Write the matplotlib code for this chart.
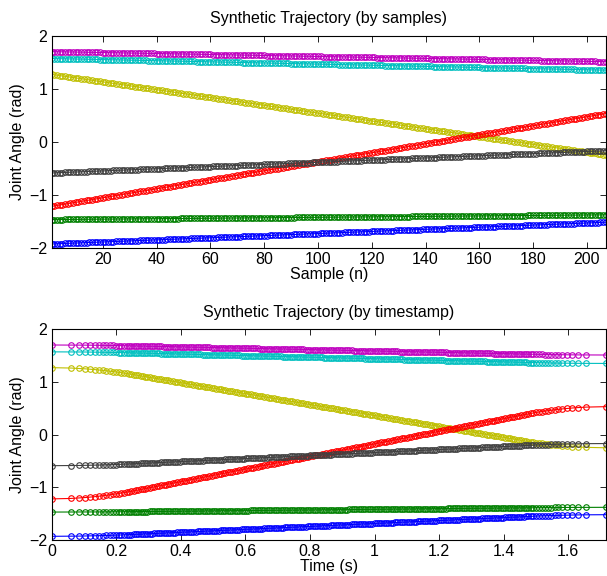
import numpy as np
import matplotlib
matplotlib.use("Agg")
import matplotlib.pyplot as plt
from matplotlib.ticker import FormatStrFormatter

# start / goal pose of the 7 joints (rad)
q_start = [-1.93, -1.47, 1.27, 1.57, 1.70, -1.22, -0.59]
q_goal = [-1.52, -1.38, -0.25, 1.35, 1.51, 0.53, -0.17]
colors = [(0, 0, 1), (0, 0.5, 0), (0.75, 0.75, 0), (0, 0.75, 0.75),
          (0.75, 0, 0.75), (1, 0, 0), (0.25, 0.25, 0.25)]

n_samples = 207
duration = 1.716     # s
t_accel = 0.253      # s, trapezoidal velocity profile

# straight line in joint space, equally spaced in path parameter
s = np.linspace(0, 1, n_samples)
Q = np.outer(1 - s, q_start) + np.outer(s, q_goal)

# timestamps for each sample along the trapezoidal profile
v = 1.0 / (duration - t_accel)
a = v / t_accel
s_a = 0.5 * v * t_accel
t = np.where(s < s_a, np.sqrt(2 * s / a),
             np.where(s > 1 - s_a, duration - np.sqrt(np.clip(2 * (1 - s) / a, 0, None)),
                      t_accel + (s - s_a) / v))

plt.rcParams['font.family'] = ['Liberation Sans', 'DejaVu Sans']
plt.rcParams['font.size'] = 11.5

fig = plt.figure(figsize=(6.07, 5.76), dpi=100)
ax1 = fig.add_axes([0.085, 0.570, 0.913, 0.368])
ax2 = fig.add_axes([0.085, 0.0625, 0.913, 0.366])

n = np.arange(1, n_samples + 1)
for j in range(len(q_start)):
    kw = dict(color=colors[j], marker='o', markersize=4.0, markerfacecolor='none',
              markeredgewidth=0.8, linewidth=0.8)
    ax1.plot(n, Q[:, j], **kw)
    ax2.plot(t, Q[:, j], **kw)

ax1.set_xlim(1, n_samples)
ax1.set_xticks(np.arange(20, 201, 20))
ax1.set_title('Synthetic Trajectory (by samples)', pad=9, fontsize=11.5)
ax1.set_xlabel('Sample (n)', labelpad=0)

ax2.set_xlim(0, duration)
ax2.set_xticks(np.arange(0, 1.61, 0.2))
ax2.xaxis.set_major_formatter(FormatStrFormatter('%g'))
ax2.set_title('Synthetic Trajectory (by timestamp)', pad=9, fontsize=11.5)
ax2.set_xlabel('Time (s)', labelpad=0)

for ax in (ax1, ax2):
    ax.set_ylim(-2, 2)
    ax.set_yticks([-2, -1, 0, 1, 2])
    ax.set_ylabel('Joint Angle (rad)', labelpad=3)
    ax.tick_params(direction='in', top=True, right=True, length=4, width=0.6,
                   labelsize=11.5, pad=3)
    for sp in ax.spines.values():
        sp.set_linewidth(0.8)

fig.savefig('out.png', dpi=100)
